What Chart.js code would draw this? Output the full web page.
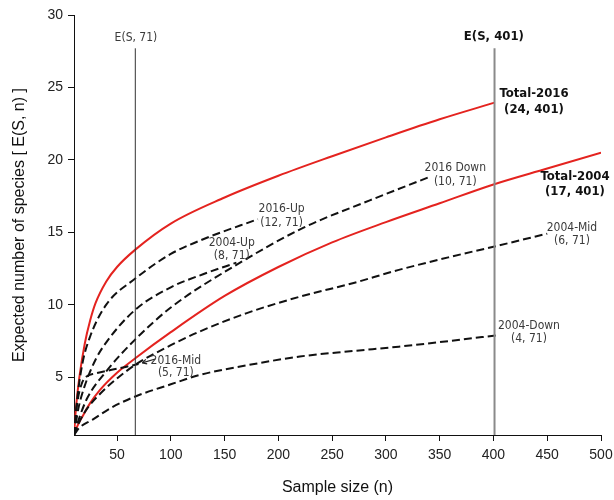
<!DOCTYPE html>
<html><head><meta charset="utf-8">
<script src="https://cdn.jsdelivr.net/npm/chart.js@4.4.1/dist/chart.umd.min.js"></script>
<style>html,body{margin:0;padding:0;background:#fff}</style>
</head><body>
<canvas id="c" width="614" height="500"></canvas>
<script>
// ---- tick values ----
const xTickValues = [50, 100, 150, 200, 250, 300, 350, 400, 450, 500];
const yTickValues = [5, 10, 15, 20, 25, 30];

// ---- series (sample size n, expected species E) ----
const total2016N = [10, 12, 15, 20, 25, 30, 40, 50, 67, 100, 150, 200, 250, 300, 350, 401];
const total2016E = [1, 3.0, 5.0, 7.3, 8.9, 10.1, 11.6, 12.6, 13.8, 15.6, 17.4, 18.9, 20.25, 21.55, 22.8, 23.95];

const total2004N = [10, 13, 18, 25, 34, 50, 67, 100, 150, 200, 250, 300, 350, 400, 450, 500];
const total2004E = [1, 1.6, 2.3, 3.2, 4.1, 5.3, 6.3, 8.1, 10.6, 12.6, 14.3, 15.7, 17.0, 18.3, 19.4, 20.5];

const up2016N = [10, 13, 18, 25, 40, 67, 100, 133, 181];
const up2016E = [1, 3.5, 6.0, 7.8, 10.0, 11.8, 13.5, 14.6, 15.9];

const up2004N = [10, 14, 20, 30, 40, 67, 100, 130, 161];
const up2004E = [1, 2.8, 4.4, 6.2, 7.4, 9.65, 11.2, 12.1, 12.9];

const down2016N = [10, 15, 22, 40, 67, 100, 161, 223, 285, 340];
const down2016E = [1, 2.2, 3.5, 5.4, 7.6, 9.8, 12.75, 15.3, 17.2, 18.8];

const mid2004N = [10, 15, 22, 35, 50, 67, 100, 127, 170, 220, 270, 312, 360, 400, 450];
const mid2004E = [1, 1.9, 2.8, 3.9, 4.9, 5.85, 7.2, 8.15, 9.4, 10.55, 11.5, 12.4, 13.3, 14.0, 14.9];

const down2004N = [10, 15, 27, 45, 67, 100, 127, 170, 220, 270, 312, 360, 405];
const down2004E = [1, 1.5, 2.05, 2.9, 3.66, 4.5, 5.15, 5.8, 6.42, 6.8, 7.1, 7.5, 7.9];

const mid2016N = [10, 13, 17, 21, 30, 45, 58, 70];
const mid2016E = [1, 3.2, 4.5, 5.0, 5.25, 5.5, 5.7, 5.9];

// reference lines E(S,71) and E(S,401)
const refLineN = [67, 401];
const refLineE = [1, 27.7];

// ---- annotation texts (anchored in data coordinates) ----
const annotations = [
  {t: 'E(S, 71)',   n: 67.6,  e: 28.45, bold: false},
  {t: 'E(S, 401)',  n: 400.4, e: 28.5,  bold: true},
  {t: 'Total-2016', n: 437.7, e: 24.57, bold: true},
  {t: '(24, 401)',  n: 437.7, e: 23.46, bold: true},
  {t: 'Total-2004', n: 475.8, e: 18.84, bold: true},
  {t: '(17, 401)',  n: 475.8, e: 17.8,  bold: true},
  {t: '2016 Down',  n: 364.5, e: 19.46, bold: false},
  {t: '(10, 71)',   n: 364.5, e: 18.49, bold: false},
  {t: '2004-Mid',   n: 473,   e: 15.32, bold: false},
  {t: '(6, 71)',    n: 473,   e: 14.42, bold: false},
  {t: '2004-Down',  n: 433,   e: 8.54,  bold: false},
  {t: '(4, 71)',    n: 433,   e: 7.64,  bold: false},
  {t: '2016-Up',    n: 203,   e: 16.6,  bold: false},
  {t: '(12, 71)',   n: 203,   e: 15.66, bold: false},
  {t: '2004-Up',    n: 156.7, e: 14.28, bold: false},
  {t: '(8, 71)',    n: 156.7, e: 13.38, bold: false},
  {t: '2016-Mid',   n: 104.7, e: 6.12,  bold: false},
  {t: '(5, 71)',    n: 104.7, e: 5.29,  bold: false}
];
const arrowFrom = {n: 85.5, e: 6.25};
const arrowTo = {n: 73.5, e: 5.98};

const pts = (ns, es) => ns.map((n, i) => ({x: n, y: es[i]}));
const RED = '#e4231f';
const redLine = (label, ns, es) => ({label, data: pts(ns, es), borderColor: RED, borderWidth: 2,
  pointRadius: 0, fill: false, cubicInterpolationMode: 'monotone'});
const dashLine = (label, ns, es) => ({label, data: pts(ns, es), borderColor: '#111', borderWidth: 2,
  borderDash: [8, 4], pointRadius: 0, fill: false, cubicInterpolationMode: 'monotone'});
const refLine = (label, n, color, w) => ({label, data: pts([n, n], refLineE), borderColor: color,
  borderWidth: w, pointRadius: 0, fill: false});

const annotationPlugin = {
  id: 'annot',
  afterDatasetsDraw(chart) {
    const {ctx, scales: {x, y}} = chart;
    ctx.save();
    ctx.textAlign = 'center';
    ctx.textBaseline = 'middle';
    annotations.forEach(a => {
      ctx.font = (a.bold ? 'bold 13px ' : '12px ') + '"Liberation Sans Narrow", "DejaVu Sans Condensed", "Liberation Sans", sans-serif';
      ctx.fillStyle = a.bold ? '#111' : '#3a3a3a';
      ctx.fillText(a.t, x.getPixelForValue(a.n), y.getPixelForValue(a.e));
    });
    // arrow for 2016-Mid
    const x1 = x.getPixelForValue(arrowFrom.n), y1 = y.getPixelForValue(arrowFrom.e);
    const x2 = x.getPixelForValue(arrowTo.n), y2 = y.getPixelForValue(arrowTo.e);
    ctx.strokeStyle = '#222'; ctx.lineWidth = 1.2;
    ctx.beginPath(); ctx.moveTo(x1, y1); ctx.lineTo(x2, y2); ctx.stroke();
    const ang = Math.atan2(y2 - y1, x2 - x1);
    ctx.beginPath();
    ctx.moveTo(x2, y2);
    ctx.lineTo(x2 - 5 * Math.cos(ang - 0.5), y2 - 5 * Math.sin(ang - 0.5));
    ctx.moveTo(x2, y2);
    ctx.lineTo(x2 - 5 * Math.cos(ang + 0.5), y2 - 5 * Math.sin(ang + 0.5));
    ctx.stroke();
    ctx.restore();
  }
};

const axisFont = {family: '"Liberation Sans", Arial, sans-serif', size: 14};
new Chart(document.getElementById('c'), {
  type: 'line',
  data: {
    datasets: [
      refLine('E(S, 71)', refLineN[0], '#333', 1),
      refLine('E(S, 401)', refLineN[1], '#8a8a8a', 2),
      dashLine('2016-Up', up2016N, up2016E),
      dashLine('2004-Up', up2004N, up2004E),
      dashLine('2016 Down', down2016N, down2016E),
      dashLine('2004-Mid', mid2004N, mid2004E),
      dashLine('2004-Down', down2004N, down2004E),
      dashLine('2016-Mid', mid2016N, mid2016E),
      redLine('Total-2016', total2016N, total2016E),
      redLine('Total-2004', total2004N, total2004E)
    ]
  },
  options: {
    responsive: false,
    animation: false,
    layout: {padding: {top: 15, right: 0, bottom: 0, left: 0}},
    plugins: {legend: {display: false}, tooltip: {enabled: false}},
    scales: {
      x: {
        type: 'linear', min: 10, max: 500,
        afterBuildTicks: s => { s.ticks = xTickValues.map(v => ({value: v})); },
        afterFit: s => { s.height = 65; s.paddingRight = 13; s.paddingLeft = 0; },
        ticks: {autoSkip: false, maxRotation: 0, color: '#222', font: axisFont, padding: 6},
        grid: {drawOnChartArea: false, drawTicks: true, tickLength: 6, color: '#111'},
        border: {color: '#111', width: 1},
        title: {display: true, text: 'Sample size (n)', color: '#111',
          font: {family: '"Liberation Sans", Arial, sans-serif', size: 16}, padding: {top: 2, bottom: 3}}
      },
      y: {
        type: 'linear', min: 1, max: 30,
        afterBuildTicks: s => { s.ticks = yTickValues.map(v => ({value: v})); },
        afterFit: s => { s.width = 74; },
        ticks: {color: '#222', font: axisFont, padding: 5},
        grid: {drawOnChartArea: false, drawTicks: true, tickLength: 6, color: '#111'},
        border: {color: '#111', width: 1},
        title: {display: true, text: 'Expected number of species [ E(S, n) ]', color: '#111',
          font: {family: '"Liberation Sans", Arial, sans-serif', size: 16}, padding: {top: 10, bottom: 2}}
      }
    }
  },
  plugins: [annotationPlugin]
});
</script>
</body></html>
